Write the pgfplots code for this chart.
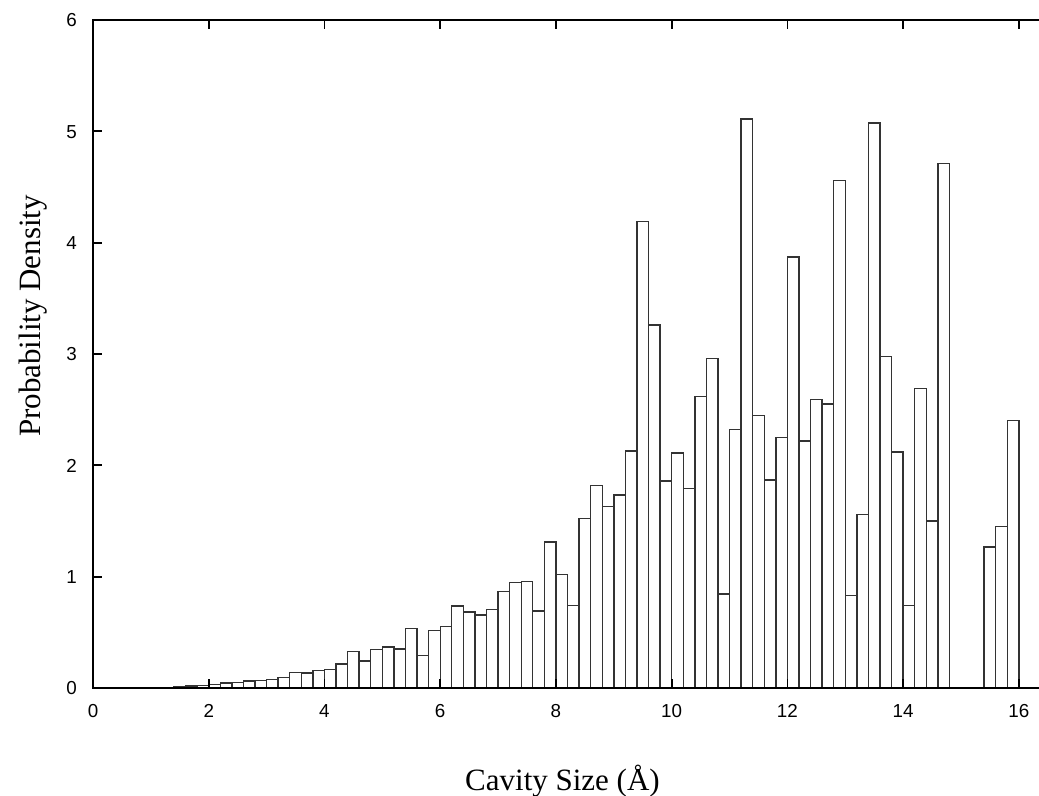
\documentclass[border=0pt]{standalone}
\usepackage{fontspec}
\setmainfont{Liberation Serif}
\newfontfamily\tickfont{Liberation Sans}
\usepackage{pgfplots}
\pgfplotsset{compat=1.18}
\begin{document}
\begin{tikzpicture}
\useasboundingbox (0,0) rectangle (519.5pt,398pt);
\begin{axis}[
  at={(46.5pt,54pt)}, anchor=south west,
  scale only axis, width=477.4pt, height=334pt,
  xmin=0, xmax=16.5, ymin=0, ymax=6,
  xtick={0,2,...,16}, ytick={0,1,...,6},
  tick align=inside, major tick length=4.5pt,
  axis line style={line width=1pt},
  tick style={line width=0.9pt, black},
  axis on top,
  /pgf/number format/assume math mode=true,
  tick label style={font=\tickfont\fontsize{9.4}{11}\selectfont, text height=6.8pt, text depth=0pt},
  xticklabel style={anchor=north, yshift=-4.3pt},
  yticklabel style={anchor=east, xshift=-4.5pt},
  label style={font=\fontsize{15.5}{18}\selectfont},
  xlabel={Cavity Size (Å)},
  ylabel={Probability Density},
  xlabel style={at={(axis description cs:0.4917,-0.153)}, anchor=base},
  ylabel style={at={(axis description cs:-0.0623,0.557)}, anchor=center, rotate=0},
]
\addplot[ybar interval, fill=white, draw=black!80, line width=0.7pt] coordinates {
(1.2,0.006) (1.4,0.012) (1.6,0.018) (1.8,0.024) (2.0,0.030) (2.2,0.045)
(2.4,0.048) (2.6,0.063) (2.8,0.069) (3.0,0.078) (3.2,0.096) (3.4,0.140)
(3.6,0.135) (3.8,0.156) (4.0,0.165) (4.2,0.216) (4.4,0.326) (4.6,0.243)
(4.8,0.344) (5.0,0.370) (5.2,0.350) (5.4,0.536) (5.6,0.290) (5.8,0.515)
(6.0,0.550) (6.2,0.737) (6.4,0.683) (6.6,0.656) (6.8,0.707) (7.0,0.865)
(7.2,0.950) (7.4,0.955) (7.6,0.690) (7.8,1.310) (8.0,1.020) (8.2,0.740)
(8.4,1.520) (8.6,1.820) (8.8,1.630) (9.0,1.735) (9.2,2.127) (9.4,4.190)
(9.6,3.260) (9.8,1.860) (10.0,2.110) (10.2,1.790) (10.4,2.620) (10.6,2.960)
(10.8,0.845) (11.0,2.320) (11.2,5.110) (11.4,2.450) (11.6,1.870) (11.8,2.250)
(12.0,3.870) (12.2,2.220) (12.4,2.590) (12.6,2.550) (12.8,4.560) (13.0,0.830)
(13.2,1.560) (13.4,5.076) (13.6,2.980) (13.8,2.120) (14.0,0.740) (14.2,2.690)
(14.4,1.500) (14.6,4.710) (14.8,0) (15.0,0) (15.2,0) (15.4,1.265)
(15.6,1.450) (15.8,2.400) (16.0,0)
};
\end{axis}
\end{tikzpicture}
\end{document}
